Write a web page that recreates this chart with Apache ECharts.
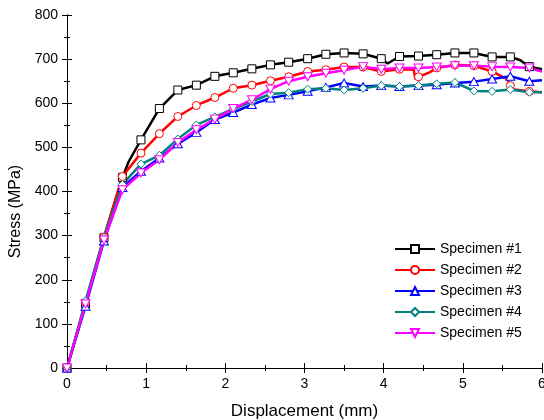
<!DOCTYPE html>
<html>
<head>
<meta charset="utf-8">
<script src="https://cdn.jsdelivr.net/npm/echarts@6/dist/echarts.min.js"></script>
<style>html,body{margin:0;padding:0;background:#fff}#c{width:544px;height:420px}</style>
</head>
<body>
<div id="c"></div>
<script>
// [x (mm), stress (MPa)] ; a third element 0 marks a point without a marker
var names = ['Specimen #1', 'Specimen #2', 'Specimen #3', 'Specimen #4', 'Specimen #5'];
var xTicks = [0, 1, 2, 3, 4, 5, 6];
var yTicks = [0, 100, 200, 300, 400, 500, 600, 700, 800];

var specimen1 = [[0,0],[0.234,146],[0.467,295],[0.70,432],[0.78,468,0],[0.934,517],[1.167,588],[1.40,630],[1.634,641],[1.868,661],[2.10,669],[2.335,678],[2.57,687],[2.80,693],[3.04,701],[3.27,711],[3.50,714],[3.74,712],[3.97,701],[4.05,690,0],[4.20,706],[4.44,707],[4.67,710],[4.90,714],[5.14,714],[5.37,705],[5.60,705],[5.72,698,0],[5.84,683],[6.0,677,0]];
var specimen2 = [[0,0],[0.234,148],[0.467,297],[0.70,434],[0.934,487],[1.167,531],[1.40,570],[1.634,595],[1.868,613],[2.10,634],[2.335,641],[2.57,651],[2.80,660],[3.04,672],[3.27,676],[3.50,682],[3.74,682],[3.97,672],[4.20,677],[4.38,676,0],[4.40,655,0],[4.44,660],[4.58,670,0],[4.67,680],[4.90,687],[5.14,685],[5.37,672],[5.50,660,0],[5.56,655,0],[5.60,640],[5.62,632,0],[5.84,627],[6.0,625,0]];
var specimen3 = [[0,0],[0.234,140],[0.467,288],[0.70,409],[0.934,446],[1.167,476],[1.40,508],[1.634,534],[1.868,563],[2.10,579],[2.335,597],[2.57,612],[2.80,619],[3.04,627],[3.27,636],[3.50,646],[3.74,638],[3.97,640],[4.20,638],[4.44,640],[4.67,642],[4.90,646],[5.14,649],[5.37,655],[5.60,661],[5.84,650],[6.0,652,0]];
var specimen4 = [[0,0],[0.234,152],[0.467,296],[0.70,416],[0.934,462],[1.167,482],[1.40,519],[1.634,551],[1.868,569],[2.10,587],[2.335,604],[2.57,621],[2.80,624],[3.04,632],[3.27,634],[3.50,630],[3.74,634],[3.97,640],[4.20,638],[4.44,640],[4.67,644],[4.90,647],[5.14,628],[5.37,627],[5.60,631],[5.84,625],[6.0,625,0]];
var specimen5 = [[0,0],[0.234,145],[0.467,290],[0.70,404],[0.934,442],[1.167,472],[1.40,511],[1.634,540],[1.868,564],[2.10,588],[2.335,608],[2.57,632],[2.80,650],[3.04,660],[3.27,668],[3.50,675],[3.74,683],[3.97,677],[4.20,680],[4.44,680],[4.67,682],[4.90,685],[5.14,685],[5.37,683],[5.60,682],[5.84,680],[6.0,672,0]];

var colors = ['#000000', '#ff0000', '#0000ff', '#008080', '#ff00ff'];
var symbols = ['rect', 'circle', 'triangle', 'diamond', 'path://M0,0 L10,0 L5,9 Z'];
var allData = [specimen1, specimen2, specimen3, specimen4, specimen5];

function toItems(arr) {
  return arr.map(function (p) {
    return p[2] === 0 ? { value: [p[0], p[1]], symbol: 'none' } : [p[0], p[1]];
  });
}

var font = 'Liberation Sans, Arial, sans-serif';
var axisCommon = {
  axisLine: { show: true, lineStyle: { color: '#000', width: 1 } },
  axisTick: { show: true, inside: true, length: 5, lineStyle: { color: '#000' } },
  minorTick: { show: true, splitNumber: 2, length: 3, lineStyle: { color: '#000' } },
  splitLine: { show: false }
};

var series = allData.map(function (d, i) {
  return {
    name: names[i],
    type: 'line',
    xAxisIndex: 0,
    yAxisIndex: 0,
    data: toItems(d),
    symbol: symbols[i],
    symbolSize: (i === 4 || i === 2) ? [9, 8] : 8,
    showAllSymbol: true,
    lineStyle: { color: colors[i], width: 2.5 },
    itemStyle: { color: '#fff', borderColor: colors[i], borderWidth: 1 },
    emphasis: { disabled: true },
    animation: false,
    clip: true
  };
});

var chart = echarts.init(document.getElementById('c'), null, { renderer: 'canvas' });
chart.setOption({
  backgroundColor: '#fff',
  animation: false,
  grid: { left: 67, right: 2, top: 15, bottom: 52, containLabel: false, outerBoundsMode: 'none' },
  legend: {
    orient: 'vertical',
    left: 389,
    top: 237,
    itemWidth: 40,
    itemHeight: 10,
    itemGap: 7,
    data: names,
    textStyle: { fontFamily: font, fontSize: 14, color: '#000' }
  },
  xAxis: [
    Object.assign({
      type: 'value', min: xTicks[0], max: xTicks[xTicks.length - 1], interval: 1,
      name: 'Displacement (mm)', nameLocation: 'middle', nameGap: 35,
      nameTextStyle: { fontFamily: font, fontSize: 17, color: '#000' },
      axisLabel: { fontFamily: font, fontSize: 14, color: '#000', margin: 9 }
    }, axisCommon),
    Object.assign({
      type: 'value', position: 'top', min: 0, max: 6, interval: 1,
      axisLabel: { show: false }
    }, axisCommon)
  ],
  yAxis: [
    Object.assign({
      type: 'value', min: yTicks[0], max: yTicks[yTicks.length - 1], interval: 100,
      name: 'Stress (MPa)', nameLocation: 'middle', nameGap: 38,
      nameTextStyle: { fontFamily: font, fontSize: 16, color: '#000', padding: [0, 40, 0, 0] },
      axisLabel: { fontFamily: font, fontSize: 14, color: '#000', margin: 9 }
    }, axisCommon),
    Object.assign({
      type: 'value', position: 'right', min: 0, max: 800, interval: 100,
      axisLabel: { show: false }
    }, axisCommon)
  ],
  series: series
});
</script>
</body>
</html>
